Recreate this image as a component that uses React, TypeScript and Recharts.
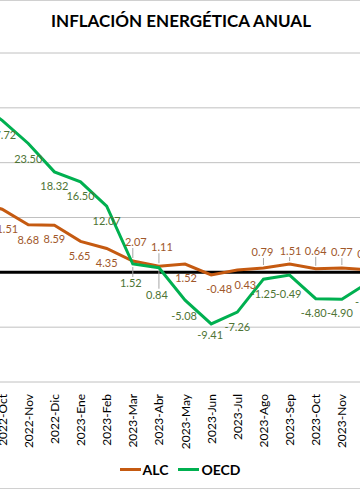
import React from 'react';
import { LineChart, Line, XAxis, YAxis, CartesianGrid, ReferenceLine, LabelList } from 'recharts';

const categories = ['2022-Sep', '2022-Oct', '2022-Nov', '2022-Dic', '2023-Ene', '2023-Feb', '2023-Mar', '2023-Abr', '2023-May', '2023-Jun', '2023-Jul', '2023-Ago', '2023-Sep', '2023-Oct', '2023-Nov', '2023-Dic'];
const alcValues = [12.9, 11.51, 8.68, 8.59, 5.65, 4.35, 2.07, 1.11, 1.52, -0.48, 0.43, 0.79, 1.51, 0.64, 0.77, 0.5];
const oecdValues = [31.0, 27.72, 23.5, 18.32, 16.5, 12.07, 1.52, 0.84, -5.08, -9.41, -7.26, -1.25, -0.49, -4.8, -4.9, -1.9];
const yTicks = [-20, -10, 0, 10, 20, 30, 40];
const title = 'INFLACIÓN ENERGÉTICA ANUAL';

// label placement config: [dx, dy, leader]
const alcLabelPlace: [number, number, number][] = [[0, 17, 0], [2, 20, 0], [0, 15, 0], [0, 14, 0], [-1, 15, 0], [0, 15, 0], [3, -19, 1], [3, -19, 1], [1, 14, 0], [8, 14, 0], [8, 15, 0], [-1, -16, 1], [1, -13, 1], [0, -18, 1], [0, -16, 1], [0, -16, 1]];
const oecdLabelPlace: [number, number, number][] = [[0, 15, 0], [0, 15, 0], [0, 16, 0], [0, 14, 0], [0, 14, 0], [0, 15, 0], [-2, 19, 1], [-2, 27, 1], [-1, 16, 0], [-1, 11, 0], [0, 15, 0], [0, 15, 0], [-1, 19, 0], [-2, 14, 0], [-2, 14, 0], [0, 19, 0]];

const data = categories.map((c, i) => ({ cat: c, ALC: alcValues[i], OECD: oecdValues[i] }));

const FONT = "Lato, 'Open Sans', sans-serif";
const ALC_COLOR = '#C55A11';
const OECD_COLOR = '#00B050';
const ALC_LABEL = '#A0572A';
const OECD_LABEL = '#4E7434';

const makeLabel = (place: [number, number, number][], color: string) => (props: any) => {
  const { x, y, value, index } = props;
  if (x == null || y == null) return null;
  const [dx, dy, leader] = place[index] || [0, 15, 0];
  const ly = y + dy;
  const els: any[] = [];
  if (leader) {
    const y1 = dy < 0 ? ly + 6 : y + 3;
    const y2 = dy < 0 ? y - 3 : ly - 6;
    els.push(<line key="l" x1={x} y1={y1} x2={x} y2={y2} stroke="#A6A6A6" strokeWidth={1} />);
  }
  els.push(
    <text key="t" x={x + dx} y={ly + 4} textAnchor="middle" fontSize={11} fontFamily={FONT} fill={color}>
      {Number(value).toFixed(2)}
    </text>
  );
  return <g>{els}</g>;
};

const AxisTick = (props: any) => {
  const { x, y, payload } = props;
  const ty = y + 4;
  return (
    <text x={x} y={ty} transform={`rotate(-90 ${x} ${ty})`} textAnchor="end" dominantBaseline="central" fontSize={12} fontFamily={FONT} fill="#000">
      {payload.value}
    </text>
  );
};

export default function App() {
  return (
    <div style={{ position: 'fixed', left: 0, top: 0, width: 360, height: 491, overflow: 'hidden', background: '#fff', fontFamily: FONT }}>
      <div style={{ position: 'absolute', left: 0, top: 0, width: 360, height: 1, background: '#D0D0D0' }} />
      <div style={{ position: 'absolute', left: 0, top: 488, width: 360, height: 1, background: '#D0D0D0' }} />
      <div style={{ position: 'absolute', left: 0, top: 10, width: 362, textAlign: 'center', fontSize: 17, fontWeight: 700, lineHeight: '22px', color: '#000' }}>
        {title}
      </div>
      <div style={{ position: 'absolute', left: -24, top: 0 }}>
        <LineChart width={392} height={491} data={data} margin={{ top: 53, right: 0, left: 0, bottom: 49 }}>
          <CartesianGrid vertical={false} stroke="#C0C0C0" strokeWidth={1} />
          <YAxis hide domain={[-20, 40]} ticks={yTicks} type="number" />
          <XAxis dataKey="cat" scale="point" padding={{ left: 0, right: 0 }} height={60} axisLine={false} tickLine={false} tick={<AxisTick />} interval={0} />
          <ReferenceLine y={0} stroke="#000" strokeWidth={3} />
          <Line type="linear" dataKey="ALC" stroke={ALC_COLOR} strokeWidth={3} dot={false} isAnimationActive={false}>
            <LabelList dataKey="ALC" content={makeLabel(alcLabelPlace, ALC_LABEL)} />
          </Line>
          <Line type="linear" dataKey="OECD" stroke={OECD_COLOR} strokeWidth={3} dot={false} isAnimationActive={false}>
            <LabelList dataKey="OECD" content={makeLabel(oecdLabelPlace, OECD_LABEL)} />
          </Line>
        </LineChart>
      </div>
      <div style={{ position: 'absolute', left: 0, top: 459, width: 360, height: 20, display: 'flex', justifyContent: 'center', alignItems: 'center', fontSize: 14, fontWeight: 700, color: '#000' }}>
        <span style={{ display: 'inline-block', width: 21, height: 3, background: ALC_COLOR, marginRight: 2 }} />
        <span style={{ marginRight: 10 }}>ALC</span>
        <span style={{ display: 'inline-block', width: 21, height: 3, background: OECD_COLOR, marginRight: 2 }} />
        <span>OECD</span>
      </div>
    </div>
  );
}
